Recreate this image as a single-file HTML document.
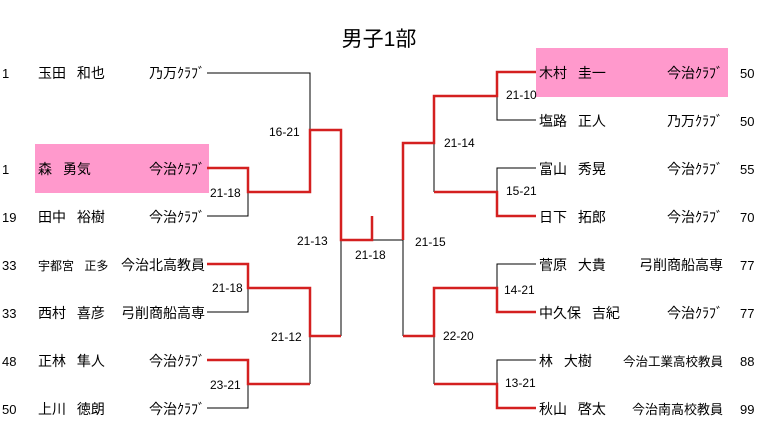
<!DOCTYPE html>
<html><head><meta charset="utf-8"><style>
html,body{margin:0;padding:0;background:#fff;}
svg{display:block;}
text{font-family:"Liberation Sans","Noto Sans CJK JP",sans-serif;font-size:14px;fill:#000;word-spacing:7px;}
.t{font-size:21px;}
.s{font-size:12px;word-spacing:0;}
.n{font-size:13px;word-spacing:0;}
.k{stroke:#000;stroke-width:1;fill:none;}
.r{stroke:#d42020;stroke-width:2.5;fill:none;}
</style></head><body>
<svg width="760" height="433" viewBox="0 0 760 433">
<rect x="35" y="144" width="174" height="49" fill="#ff99cc"/>
<rect x="536" y="48" width="192" height="49" fill="#ff99cc"/>
<text class="t" x="379" y="46" text-anchor="middle">男子1部</text>

<g>
<text class="n" x="2" y="78">1</text><text x="38" y="78">玉田 和也</text><text x="205" y="78" text-anchor="end">乃万ｸﾗﾌﾞ</text>
<text class="n" x="2" y="174">1</text><text x="38" y="174">森 勇気</text><text x="205" y="174" text-anchor="end">今治ｸﾗﾌﾞ</text>
<text class="n" x="2" y="222">19</text><text x="38" y="222">田中 裕樹</text><text x="205" y="222" text-anchor="end">今治ｸﾗﾌﾞ</text>
<text class="n" x="2" y="270">33</text><text x="38" y="270" style="font-size:12px">宇都宮 正多</text><text x="205" y="270" text-anchor="end">今治北高教員</text>
<text class="n" x="2" y="318">33</text><text x="38" y="318">西村 喜彦</text><text x="205" y="318" text-anchor="end">弓削商船高専</text>
<text class="n" x="2" y="366">48</text><text x="38" y="366">正林 隼人</text><text x="205" y="366" text-anchor="end">今治ｸﾗﾌﾞ</text>
<text class="n" x="2" y="414">50</text><text x="38" y="414">上川 徳朗</text><text x="205" y="414" text-anchor="end">今治ｸﾗﾌﾞ</text>
</g>
<g>
<text x="539" y="78">木村 圭一</text><text x="723" y="78" text-anchor="end">今治ｸﾗﾌﾞ</text><text class="n" x="740" y="78">50</text>
<text x="539" y="126">塩路 正人</text><text x="723" y="126" text-anchor="end">乃万ｸﾗﾌﾞ</text><text class="n" x="740" y="126">50</text>
<text x="539" y="174">富山 秀晃</text><text x="723" y="174" text-anchor="end">今治ｸﾗﾌﾞ</text><text class="n" x="740" y="174">55</text>
<text x="539" y="222">日下 拓郎</text><text x="723" y="222" text-anchor="end">今治ｸﾗﾌﾞ</text><text class="n" x="740" y="222">70</text>
<text x="539" y="270">菅原 大貴</text><text x="723" y="270" text-anchor="end">弓削商船高専</text><text class="n" x="740" y="270">77</text>
<text x="539" y="318">中久保 吉紀</text><text x="723" y="318" text-anchor="end">今治ｸﾗﾌﾞ</text><text class="n" x="740" y="318">77</text>
<text x="539" y="366">林 大樹</text><text x="723" y="366" text-anchor="end" style="font-size:12.5px">今治工業高校教員</text><text class="n" x="740" y="366">88</text>
<text x="539" y="414">秋山 啓太</text><text x="723" y="414" text-anchor="end" style="font-size:13px">今治南高校教員</text><text class="n" x="740" y="414">99</text>
</g>

<g>
<text class="s" x="269" y="136">16-21</text>
<text class="s" x="210" y="197">21-18</text>
<text class="s" x="297" y="245">21-13</text>
<text class="s" x="212" y="292">21-18</text>
<text class="s" x="271" y="341">21-12</text>
<text class="s" x="210" y="389">23-21</text>
<text class="s" x="355" y="259">21-18</text>
<text class="s" x="415" y="246">21-15</text>
<text class="s" x="506" y="99">21-10</text>
<text class="s" x="444" y="147">21-14</text>
<text class="s" x="506" y="195">15-21</text>
<text class="s" x="504" y="294">14-21</text>
<text class="s" x="443" y="340">22-20</text>
<text class="s" x="505" y="387">13-21</text>
</g>

<path class="k" d="M207 73H310V130 M248 192V216H207 M248 288V312H207 M310 336V384 M248 384V408H207 M372 240H403 M341 240V336"/>
<path class="r" d="M207 168H248V192H310V130H341V240H372V216 M207 264H248V288H310V336H341 M207 360H248V384H310"/>
<path class="k" d="M497 96V120H536 M434 143V192 M536 168H497V192 M403 240V336 M536 264H497V288 M434 336V384 M536 360H497V384"/>
<path class="r" d="M403 240V143H434V96H497V72H536 M434 192H497V216H536 M403 336H434V288H497V312H536 M434 384H497V408H536"/>
</svg>
</body></html>
